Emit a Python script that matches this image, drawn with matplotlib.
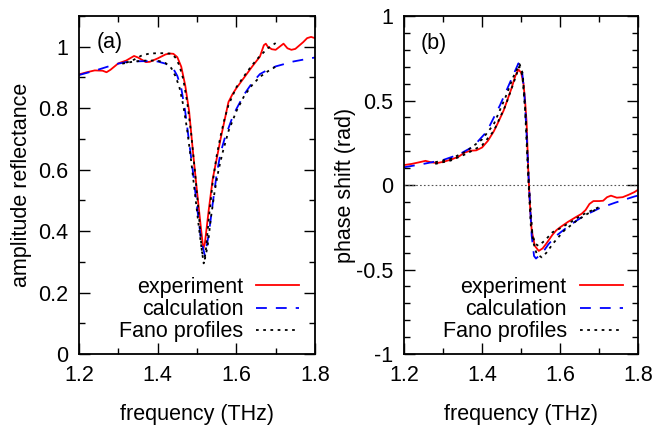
import matplotlib
matplotlib.use('Agg')
import matplotlib.pyplot as plt
from matplotlib.ticker import MultipleLocator

plt.rcParams['font.family'] = ['Liberation Sans', 'DejaVu Sans']
plt.rcParams['font.size'] = 15.5
plt.rcParams['axes.unicode_minus'] = False

#Datos panel (a): amplitud de reflectancia
fExpA = [1.20, 1.22, 1.24, 1.26, 1.27, 1.28, 1.30, 1.32, 1.34, 1.35, 1.37, 1.38, 1.40, 1.42, 1.43, 1.44,
         1.45, 1.46, 1.47, 1.48, 1.49, 1.50, 1.51, 1.516, 1.52, 1.53, 1.54, 1.55, 1.56, 1.57, 1.58, 1.59,
         1.60, 1.62, 1.64, 1.66, 1.67, 1.675, 1.68, 1.69, 1.70, 1.71, 1.72, 1.73, 1.74, 1.75, 1.77, 1.78, 1.79, 1.80]
rExpA = [0.910, 0.917, 0.923, 0.922, 0.917, 0.925, 0.946, 0.955, 0.970, 0.965, 0.950, 0.951, 0.962, 0.975, 0.978, 0.977,
         0.966, 0.935, 0.875, 0.790, 0.655, 0.530, 0.410, 0.342, 0.360, 0.470, 0.570, 0.635, 0.700, 0.760, 0.820, 0.845,
         0.865, 0.900, 0.935, 0.968, 1.005, 1.010, 1.000, 0.992, 0.990, 1.000, 1.010, 0.995, 0.990, 0.993, 1.015, 1.028, 1.032, 1.028]

fCalA = [1.20, 1.22, 1.24, 1.26, 1.28, 1.30, 1.32, 1.34, 1.36, 1.38, 1.40, 1.42, 1.43, 1.44, 1.45, 1.46, 1.47, 1.48,
         1.49, 1.50, 1.51, 1.52, 1.53, 1.54, 1.55, 1.56, 1.57, 1.58, 1.59, 1.60, 1.62, 1.64, 1.66, 1.68, 1.70, 1.72,
         1.745, 1.77, 1.80]
rCalA = [0.908, 0.915, 0.922, 0.930, 0.938, 0.945, 0.950, 0.952, 0.953, 0.953, 0.952, 0.945, 0.937, 0.928, 0.905, 0.865, 0.790, 0.690,
         0.590, 0.480, 0.375, 0.320, 0.390, 0.490, 0.585, 0.655, 0.700, 0.735, 0.770, 0.797, 0.845, 0.882, 0.911, 0.925, 0.936, 0.943,
         0.952, 0.958, 0.965]

#Perfiles de Fano (ajuste al experimento y al calculo)
fFano1A = [1.32, 1.34, 1.36, 1.38, 1.40, 1.42, 1.435, 1.445, 1.455, 1.465, 1.475, 1.485, 1.495, 1.505, 1.512, 1.517,
           1.522, 1.53, 1.54, 1.55, 1.56, 1.57, 1.58, 1.60, 1.62, 1.64, 1.66, 1.68, 1.70]
rFano1A = [0.948, 0.958, 0.972, 0.978, 0.979, 0.979, 0.977, 0.965, 0.940, 0.895, 0.820, 0.720, 0.590, 0.450, 0.340, 0.295,
           0.330, 0.440, 0.560, 0.645, 0.710, 0.765, 0.810, 0.868, 0.905, 0.940, 0.970, 0.995, 1.012]
fFano2A = [1.31, 1.34, 1.37, 1.40, 1.42, 1.435, 1.445, 1.455, 1.465, 1.475, 1.485, 1.495, 1.505, 1.513, 1.52, 1.527,
           1.535, 1.545, 1.555, 1.565, 1.58, 1.60, 1.62, 1.64, 1.66, 1.68, 1.70]
rFano2A = [0.945, 0.952, 0.955, 0.955, 0.947, 0.930, 0.905, 0.870, 0.810, 0.730, 0.630, 0.520, 0.410, 0.330, 0.310, 0.350,
           0.440, 0.530, 0.600, 0.655, 0.725, 0.790, 0.840, 0.875, 0.902, 0.920, 0.935]

#Datos panel (b): desfase
fExpB = [1.20, 1.22, 1.24, 1.255, 1.27, 1.285, 1.30, 1.32, 1.34, 1.355, 1.37, 1.385, 1.40, 1.415, 1.43, 1.44, 1.455,
         1.465, 1.475, 1.485, 1.493, 1.50, 1.506, 1.51, 1.514, 1.518, 1.522, 1.527, 1.535, 1.545, 1.555, 1.565, 1.58,
         1.59, 1.60, 1.62, 1.64, 1.655, 1.665, 1.675, 1.685, 1.70, 1.71, 1.72, 1.73, 1.745, 1.76, 1.775, 1.79, 1.80]
pExpB = [0.118, 0.125, 0.135, 0.143, 0.134, 0.130, 0.137, 0.150, 0.168, 0.192, 0.203, 0.205, 0.222, 0.262, 0.318, 0.365, 0.440,
         0.505, 0.570, 0.645, 0.683, 0.665, 0.600, 0.500, 0.370, 0.100, -0.100, -0.270, -0.360, -0.390, -0.375, -0.345, -0.295,
         -0.268, -0.250, -0.218, -0.190, -0.170, -0.148, -0.112, -0.095, -0.095, -0.093, -0.072, -0.063, -0.075, -0.072, -0.058, -0.042, -0.027]

fCalB = [1.20, 1.25, 1.30, 1.34, 1.377, 1.412, 1.446, 1.476, 1.493, 1.502, 1.508, 1.514, 1.52, 1.527, 1.533, 1.538,
         1.545, 1.555, 1.57, 1.59, 1.625, 1.66, 1.70, 1.74, 1.79, 1.80]
pCalB = [0.105, 0.125, 0.148, 0.180, 0.227, 0.316, 0.473, 0.631, 0.720, 0.680, 0.550, 0.300, 0.000, -0.300, -0.420, -0.435,
         -0.420, -0.400, -0.350, -0.300, -0.237, -0.183, -0.138, -0.105, -0.068, -0.062]

fFano1B = [1.28, 1.32, 1.36, 1.40, 1.43, 1.46, 1.48, 1.495, 1.503, 1.51, 1.518, 1.525, 1.535, 1.544, 1.56, 1.58,
           1.60, 1.63, 1.655, 1.70]
pFano1B = [0.125, 0.145, 0.185, 0.235, 0.320, 0.470, 0.600, 0.700, 0.650, 0.450, 0.050, -0.250, -0.345, -0.360, -0.330, -0.280,
           -0.256, -0.215, -0.178, -0.130]
fFano2B = [1.28, 1.32, 1.36, 1.40, 1.43, 1.46, 1.48, 1.496, 1.504, 1.512, 1.52, 1.53, 1.54, 1.553, 1.565, 1.582,
           1.61, 1.64, 1.67, 1.70]
pFano2B = [0.135, 0.155, 0.200, 0.270, 0.360, 0.520, 0.640, 0.715, 0.660, 0.400, 0.000, -0.330, -0.410, -0.428, -0.400, -0.345,
           -0.270, -0.215, -0.170, -0.135]

etiquetas = ['experiment', 'calculation', 'Fano profiles']


def formato(ax):
    #Ticks hacia adentro en los cuatro lados
    ax.tick_params(which='both', direction='in', top=True, right=True, width=1)
    ax.tick_params(which='major', length=8, pad=8)
    ax.tick_params(which='minor', length=4)
    ax.set_xlim(1.2, 1.8)
    ax.xaxis.set_major_locator(MultipleLocator(0.2))
    ax.xaxis.set_minor_locator(MultipleLocator(0.1))
    for s in ax.spines.values():
        s.set_linewidth(1.3)
    ax.set_xlabel('frequency (THz)', labelpad=13)


def leyenda(ax):
    ax.legend(loc='lower right', bbox_to_anchor=(0.984, 0.0), frameon=False, markerfirst=False,
              handlelength=2.0, handletextpad=0.6, labelspacing=0.05, borderaxespad=0.15)


fig = plt.figure(figsize=(6.55, 4.26), dpi=100)

#Panel (a)
ax1 = fig.add_axes([0.1206, 0.169, 0.3603, 0.7934])
ax1.plot(fExpA, rExpA, color='#ff0000', lw=1.3, label=etiquetas[0])
ax1.plot(fCalA, rCalA, color='#0000ff', lw=1.3, dashes=(6, 5), label=etiquetas[1])
ax1.plot(fFano1A, rFano1A, color='black', lw=1.3, dashes=(1.5, 2.5), label=etiquetas[2])
ax1.plot(fFano2A, rFano2A, color='black', lw=1.3, dashes=(1.5, 2.5))
ax1.set_ylim(0, 1.1)
ax1.set_yticks([0, 0.2, 0.4, 0.6, 0.8, 1.0])
ax1.set_yticklabels(['0', '0.2', '0.4', '0.6', '0.8', '1'])
ax1.yaxis.set_minor_locator(MultipleLocator(0.1))
ax1.set_ylabel('amplitude reflectance', labelpad=4)
formato(ax1)
ax1.text(1.246, 1.015, '(a)', va='center', ha='left')
leyenda(ax1)

#Panel (b)
ax2 = fig.add_axes([0.6168, 0.169, 0.3577, 0.7934])
ax2.axhline(0, color='#555555', lw=0.8, dashes=(1.5, 2))
ax2.plot(fExpB, pExpB, color='#ff0000', lw=1.3, label=etiquetas[0])
ax2.plot(fCalB, pCalB, color='#0000ff', lw=1.3, dashes=(6, 5), label=etiquetas[1])
ax2.plot(fFano1B, pFano1B, color='black', lw=1.3, dashes=(1.5, 2.5), label=etiquetas[2])
ax2.plot(fFano2B, pFano2B, color='black', lw=1.3, dashes=(1.5, 2.5))
ax2.set_ylim(-1, 1)
ax2.set_yticks([-1, -0.5, 0, 0.5, 1])
ax2.set_yticklabels(['-1', '-0.5', '0', '0.5', '1'])
ax2.yaxis.set_minor_locator(MultipleLocator(0.1))
ax2.set_ylabel('phase shift (rad)', labelpad=0)
formato(ax2)
ax2.text(1.2435, 0.838, '(b)', va='center', ha='left')
leyenda(ax2)

fig.savefig('out.png', dpi=100)
